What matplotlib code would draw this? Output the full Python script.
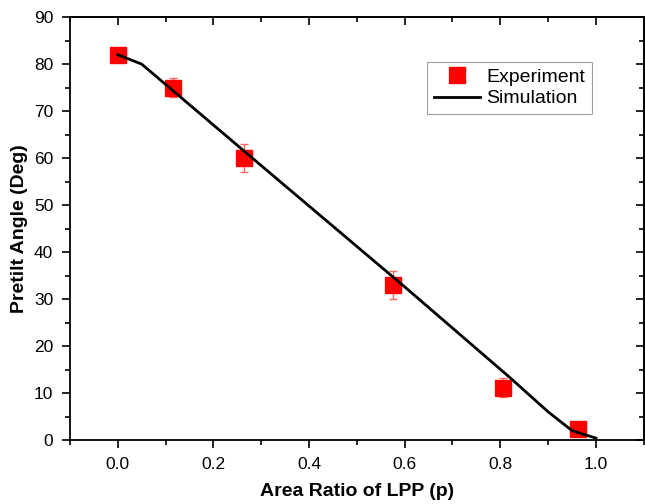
import matplotlib
matplotlib.use('Agg')
import matplotlib.pyplot as plt
from matplotlib.ticker import MultipleLocator

plt.rcParams['font.family'] = ['Liberation Sans', 'DejaVu Sans']

# experiment
exp_x = [0.0, 0.115, 0.265, 0.575, 0.806, 0.9625]
exp_y = [82.0, 75.0, 60.0, 33.0, 11.1, 2.4]
exp_err = [1.0, 2.0, 3.0, 3.0, 2.0, 0.8]

# simulation (vertices)
sim_x = [0.0, 0.05, 0.3, 0.6, 0.82, 0.9, 0.95, 1.0]
sim_y = [82.0, 80.0, 58.4, 32.6, 13.3, 6.0, 2.0, 0.4]

fig = plt.figure(figsize=(6.45, 5.04), dpi=100)
ax = fig.add_axes([0.1085, 0.127, 0.8895, 0.839])

ax.errorbar(exp_x, exp_y, yerr=exp_err, fmt='none', ecolor='#ff6666',
            elinewidth=1, capsize=3, capthick=1, zorder=2)
ax.plot(exp_x, exp_y, 's', color='red', markersize=11, linestyle='none',
        label='Experiment', zorder=3)
ax.plot(sim_x, sim_y, '-', color='black', linewidth=2, label='Simulation', zorder=4)

ax.set_xlim(-0.1, 1.1)
ax.set_ylim(0, 90)
ax.xaxis.set_minor_locator(MultipleLocator(0.1))
ax.yaxis.set_major_locator(MultipleLocator(10))
ax.yaxis.set_minor_locator(MultipleLocator(5))
ax.set_xticks([0.0, 0.2, 0.4, 0.6, 0.8, 1.0])
ax.set_xticklabels(['0.0', '0.2', '0.4', '0.6', '0.8', '1.0'])

ax.tick_params(axis='both', which='major', direction='out', length=6, width=1.2,
               labelsize=12.5, pad=6)
ax.tick_params(axis='both', which='minor', direction='out', length=3.5, width=1.2)
for sp in ax.spines.values():
    sp.set_linewidth(1.3)

# inward ticks on top and right
sec_x = ax.secondary_xaxis('top')
sec_x.set_ticks([0.0, 0.2, 0.4, 0.6, 0.8, 1.0])
sec_x.xaxis.set_minor_locator(MultipleLocator(0.1))
sec_x.tick_params(which='major', direction='in', length=6, width=1.2, labeltop=False)
sec_x.tick_params(which='minor', direction='in', length=3.5, width=1.2)
sec_x.spines['top'].set_linewidth(1.3)
sec_y = ax.secondary_yaxis('right')
sec_y.yaxis.set_major_locator(MultipleLocator(10))
sec_y.yaxis.set_minor_locator(MultipleLocator(5))
sec_y.tick_params(which='major', direction='in', length=6, width=1.2, labelright=False)
sec_y.tick_params(which='minor', direction='in', length=3.5, width=1.2)
sec_y.spines['right'].set_linewidth(1.3)

ax.set_xlabel('Area Ratio of LPP (p)', fontsize=14, fontweight='bold', labelpad=8)
ax.set_ylabel('Pretilt Angle (Deg)', fontsize=14, fontweight='bold', labelpad=4)

leg = ax.legend(loc='upper left', bbox_to_anchor=(0.622, 0.895), fontsize=14,
                frameon=True, fancybox=False, edgecolor='#888888',
                handlelength=2.4, handletextpad=0.3, borderpad=0.35,
                labelspacing=0.2, numpoints=1, borderaxespad=0)
leg.get_frame().set_linewidth(0.8)

fig.savefig('out.png', dpi=100)
